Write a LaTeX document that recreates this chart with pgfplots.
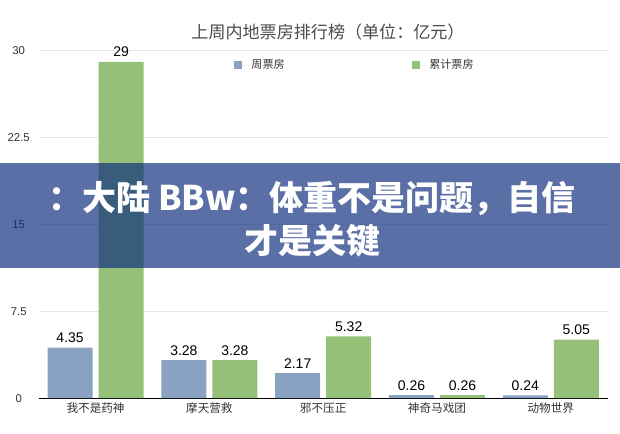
\documentclass[border=0pt]{standalone}
\usepackage{pgfplots}
\pgfplotsset{compat=1.18}
\usepackage{fontspec}
\setmainfont{Liberation Sans}
\newfontfamily\cjk{Noto Sans CJK SC}
\definecolor{weekly}{HTML}{8AA2C2}
\definecolor{total}{HTML}{95C078}
\definecolor{band}{HTML}{102E7E}
\definecolor{gridgray}{HTML}{E6E6E6}
\definecolor{txt}{HTML}{333333}
\definecolor{titlegray}{HTML}{4A4A4A}
\pgfplotsset{sqlegend/.style={legend image code/.code={%
    \fill[##1] (0pt,-3pt) rectangle (6pt,3pt);
    \path (0pt,0pt) -- (11pt,0pt);}}}

\begin{document}
\begin{tikzpicture}[x=0.75pt,y=0.75pt]
\path[use as bounding box] (0,0) rectangle (620,433);
\begin{axis}[
    at={(34,30)}, anchor=south west,
    scale only axis, width=426.75pt, height=261pt,
    xmin=-0.5, xmax=4.5, ymin=0, ymax=30,
    ybar=4.5pt, bar width=33.75pt,
    xtick={0,...,4},
    xticklabels={我不是药神,摩天营救,邪不压正,神奇马戏团,动物世界},
    xticklabel style={font=\cjk\fontsize{8.7}{10}\selectfont, text=txt},
    ytick={0,7.5,15,22.5,30},
    yticklabel style={font=\fontsize{8.5}{10}\selectfont, text=txt, anchor=center, xshift=-15pt},
    /pgf/number format/assume math mode=true,
    major tick length=0pt,
    ymajorgrids, grid style={gridgray, line width=0.6pt},
    axis x line*=bottom, axis y line*=left,
    x axis line style={black, line width=0.8pt, -},
    y axis line style={draw=none},
    nodes near coords,
    every node near coord/.append style={font=\fontsize{10.5}{12}\selectfont, black},
    clip=false,
    legend columns=2,
    legend cell align=left,
    legend style={at={(rel axis cs:0.343,0.957)}, anchor=west, draw=none, fill=none,
        inner sep=0pt, font=\cjk\fontsize{8.3}{10}\selectfont, text=txt,
        /tikz/every even column/.append style={column sep=93.5pt}},
]
\addplot[fill=weekly, draw=none, sqlegend]
    coordinates {(0,4.35) (1,3.28) (2,2.17) (3,0.26) (4,0.24)};
\addlegendentry{周票房}
\addplot[fill=total, draw=none, sqlegend]
    coordinates {(0,29) (1,3.28) (2,5.32) (3,0.26) (4,5.05)};
\addlegendentry{累计票房}
\end{axis}
\node[font=\cjk\fontsize{12.8}{14}\selectfont, text=titlegray] at (328,401) {上周内地票房排行榜（单位：亿元）};
% overlay banner
\fill[band, opacity=0.69] (0,165) rectangle (620,270);
\node[text=white, font=\cjk\bfseries\fontsize{25.5}{32}\selectfont, align=center] at (312,214)
    {：大陆 BBw：体重不是问题，自信\\才是关键};
\end{tikzpicture}
\end{document}
